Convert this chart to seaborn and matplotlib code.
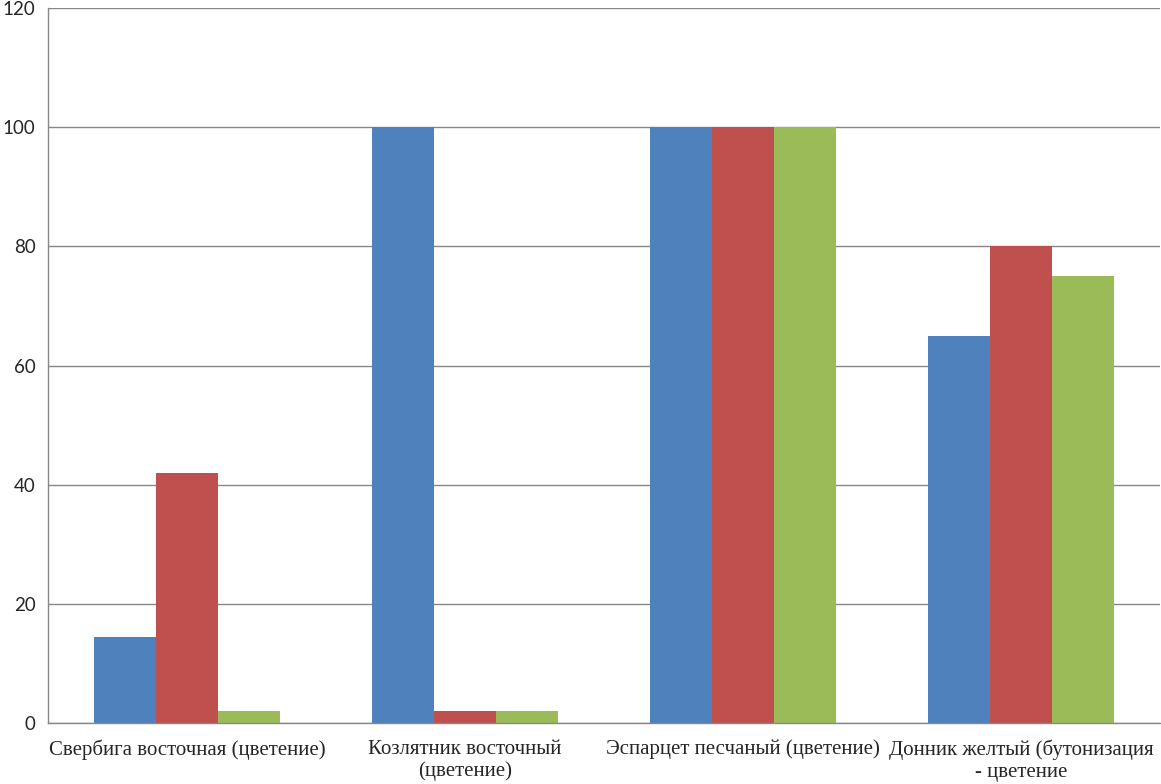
import pandas as pd
import numpy as np
import seaborn as sns
import matplotlib.pyplot as plt

# data
categories = ['Свербига восточная (цветение)', 'Козлятник восточный\n(цветение)',
              'Эспарцет песчаный (цветение)', 'Донник желтый (бутонизация\n- цветение']
series_names = ['Ряд 1', 'Ряд 2', 'Ряд 3']
values_1 = [14.5, 100, 100, 65]
values_2 = [42, 2, 100, 80]
values_3 = [2, 2, 100, 75]
colors = ['#4F81BD', '#C0504D', '#9BBB59']

df = pd.DataFrame({
    'cat': categories * 3,
    'series': np.repeat(series_names, len(categories)),
    'value': values_1 + values_2 + values_3,
})

sns.set_style('white')
fig = plt.figure(figsize=(11.61, 7.84), dpi=100)
ax = fig.add_axes([0.0413, 0.0778, 0.9577, 0.912])

sns.barplot(data=df, x='cat', y='value', hue='series', palette=colors,
            width=0.67, saturation=1, linewidth=0, ax=ax, legend=False, order=categories)

ax.set_ylim(0, 120)
ax.set_xlim(-0.5, 3.5)
ax.set_yticks(range(0, 121, 20))
ax.yaxis.grid(True, color='#878787', linewidth=1)
ax.set_axisbelow(True)
ax.set_xlabel('')
ax.set_ylabel('')

for s in ['top', 'right']:
    ax.spines[s].set_visible(False)
for s in ['left', 'bottom']:
    ax.spines[s].set_color('#878787')
    ax.spines[s].set_linewidth(1)

ax.set_xticks(range(len(categories)))
ax.set_xticklabels(categories, fontfamily='Liberation Serif', fontsize=15, linespacing=1.2)
ax.set_xticks(np.arange(-0.5, 3.6, 1), minor=True)
ax.tick_params(axis='x', which='major', length=0, pad=12)
ax.tick_params(axis='x', which='minor', length=5, color='#878787', direction='out')
ax.tick_params(axis='y', length=5, color='#878787', direction='out', pad=4)
for t in ax.get_yticklabels():
    t.set_fontfamily('Lato')
    t.set_fontsize(13.5)

plt.savefig('out.png', dpi=100)
plt.close()
